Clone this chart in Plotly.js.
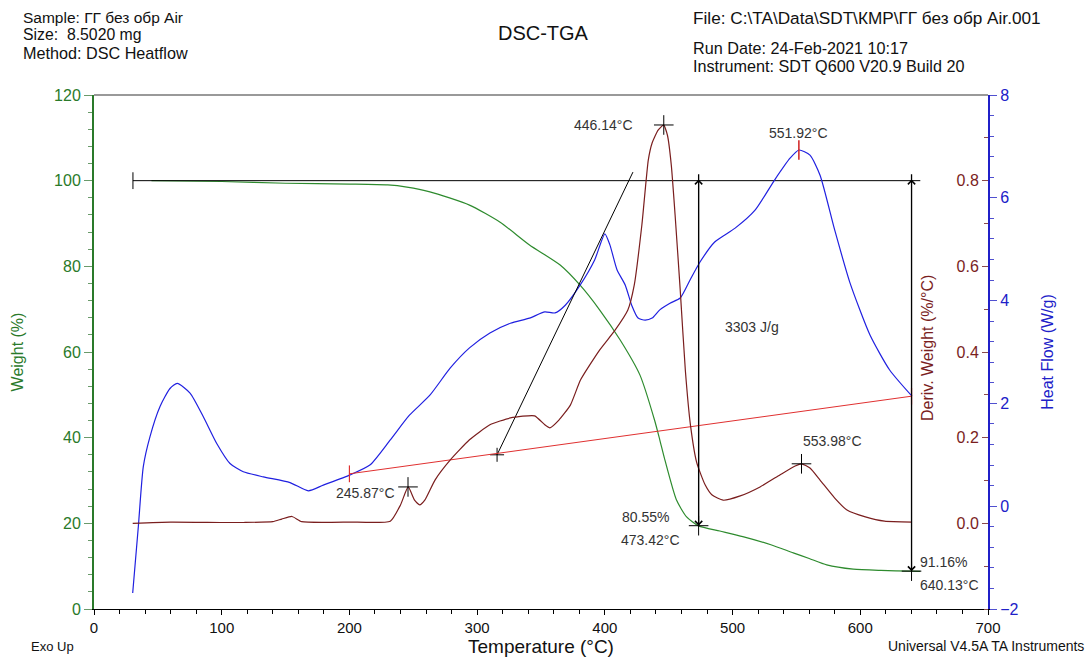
<!DOCTYPE html>
<html><head><meta charset="utf-8">
<script src="https://cdn.plot.ly/plotly-3.0.1.min.js"></script>
<style>html,body{margin:0;padding:0;background:#fff}#chart{width:1087px;height:657px}</style>
</head><body><div id="chart"></div>
<script>
// ---- Weight (%) vs temperature (°C)
const tempW = [45, 100, 150, 200, 230, 245, 263, 294, 318, 341, 365, 380.6, 396, 412, 427.5, 439, 443, 447, 456, 464, 473.4, 490, 508, 530, 547.5, 560, 573.7, 594.5, 616, 640, 647];
const weight = [100, 99.8, 99.4, 99.2, 99.0, 98.5, 97.4, 94.3, 90.3, 85.0, 80.3, 75.6, 69.8, 62.8, 54.6, 44.0, 39.5, 34.8, 25.5, 21.5, 19.4, 18.2, 16.9, 15.0, 13.1, 11.8, 10.3, 9.3, 9.0, 8.84, 8.8];

// ---- Deriv. Weight (%/°C)
const tempD = [30.3, 60, 100, 117, 140, 147, 155, 162.6, 200, 232, 240, 246, 251, 255, 259, 267, 279, 294, 310, 326, 345, 353, 357, 364, 373, 381, 396, 408, 418, 423, 429, 434, 437, 441.7, 446, 449, 452, 455, 459, 463, 467, 472, 478.5, 484, 492.6, 506, 521.5, 537, 549, 554, 560.6, 568.5, 580, 589.6, 604, 619, 640.5];
const deriv = [0.0, 0.003, 0.002, 0.002, 0.004, 0.01, 0.016, 0.004, 0.003, 0.005, 0.043, 0.085, 0.054, 0.043, 0.054, 0.101, 0.148, 0.195, 0.230, 0.246, 0.251, 0.230, 0.223, 0.241, 0.276, 0.335, 0.405, 0.451, 0.498, 0.556, 0.697, 0.848, 0.888, 0.918, 0.930, 0.906, 0.837, 0.720, 0.545, 0.358, 0.230, 0.141, 0.090, 0.066, 0.054, 0.064, 0.085, 0.113, 0.134, 0.139, 0.129, 0.101, 0.059, 0.031, 0.015, 0.005, 0.003];

// ---- Heat Flow (W/g)
const tempH = [30.3, 34.7, 38.6, 43.8, 51.7, 59.5, 65.2, 75.2, 85.6, 96.1, 106.5, 116.9, 132.6, 153.5, 167.8, 179.5, 200.5, 216, 232, 247, 263, 279, 294, 310, 326, 341, 353, 361, 369, 380.6, 392, 400, 404, 409.5, 416, 421, 426, 431.6, 437, 443, 451, 459, 466.7, 474.5, 486, 502, 517.6, 533, 545, 552, 560.6, 568.5, 580, 592, 607.6, 623, 640.5];
const heatFlow = [-1.69, -0.40, 0.77, 1.35, 1.94, 2.29, 2.39, 2.20, 1.74, 1.22, 0.83, 0.67, 0.57, 0.46, 0.30, 0.41, 0.61, 0.80, 1.29, 1.77, 2.16, 2.69, 3.08, 3.37, 3.56, 3.66, 3.78, 3.76, 3.91, 4.30, 4.79, 5.30, 5.08, 4.60, 4.30, 3.91, 3.66, 3.62, 3.66, 3.82, 3.95, 4.05, 4.40, 4.75, 5.14, 5.41, 5.76, 6.35, 6.77, 6.93, 6.83, 6.44, 5.37, 4.34, 3.33, 2.65, 2.14];

// ---- Axis ticks
const xTicks = [0, 100, 200, 300, 400, 500, 600, 700];
const derivTicks = [0, 0.2, 0.4, 0.6, 0.8];

// ---- Analysis marks
const derivPeakT = [245.87, 446.14, 553.98];
const derivPeakD = [0.085, 0.930, 0.139];
const stepT = [473.42, 640.13];
const stepW = [19.45, 8.84];
const stepLabelPct = ['80.55%', '91.16%'];
const levelT = [30.5, 647];
const levelW = [100, 100];
const tangentT = [315.6, 422];
const tangentH = [1.0, 6.5];
const baseT = [200, 640.13];
const baseH = [0.63, 2.14];
const hfPeakT = [551.92];
const hfPeakH = [6.93];
const enthalpy = '3303 J/g';

const FONT = 'Liberation Sans, Arial, sans-serif';
const GREEN = '#2a7a2a', BROWN = '#7a1e1e', BLUE = '#2020c8', TXT = '#333333';

const traces = [
  {x: tempW, y: weight, type: 'scatter', mode: 'lines', line: {color: '#2e8b2e', width: 1.2, shape: 'spline', smoothing: 0.6}, yaxis: 'y', hoverinfo: 'skip'},
  {x: tempD, y: deriv, type: 'scatter', mode: 'lines', line: {color: '#7a1e1e', width: 1.2, shape: 'spline', smoothing: 0.5}, yaxis: 'y3', hoverinfo: 'skip'},
  {x: tempH, y: heatFlow, type: 'scatter', mode: 'lines', line: {color: '#2020e0', width: 1.2, shape: 'spline', smoothing: 0.6}, yaxis: 'y2', hoverinfo: 'skip'},
  {x: levelT, y: levelW, type: 'scatter', mode: 'lines', line: {color: '#000', width: 1}, yaxis: 'y', hoverinfo: 'skip'},
  {x: [levelT[0]], y: [levelW[0]], type: 'scatter', mode: 'markers', marker: {symbol: 'line-ns', size: 12, line: {color: '#000', width: 1}}, yaxis: 'y', hoverinfo: 'skip'},
  {x: [stepT[0], stepT[0], null, stepT[1], stepT[1]], y: [101.5, stepW[0], null, 101.5, stepW[1]], type: 'scatter', mode: 'lines', line: {color: '#000', width: 1.3}, yaxis: 'y', hoverinfo: 'skip'},
  {x: stepT, y: stepW, type: 'scatter', mode: 'markers', marker: {symbol: 'cross-thin', size: 14, line: {color: '#000', width: 1}}, yaxis: 'y', hoverinfo: 'skip'},
  {x: tangentT, y: tangentH, type: 'scatter', mode: 'lines', line: {color: '#000', width: 1}, yaxis: 'y2', hoverinfo: 'skip'},
  {x: [tangentT[0]], y: [tangentH[0]], type: 'scatter', mode: 'markers', marker: {symbol: 'cross-thin', size: 10, line: {color: '#000', width: 1}}, yaxis: 'y2', hoverinfo: 'skip'},
  {x: baseT, y: baseH, type: 'scatter', mode: 'lines+markers', line: {color: '#e03030', width: 1}, marker: {symbol: 'line-ns', size: 12, color: '#e03030', line: {color: '#e03030', width: 1.2}}, yaxis: 'y2', hoverinfo: 'skip'},
  {x: hfPeakT, y: hfPeakH, type: 'scatter', mode: 'markers', marker: {symbol: 'line-ns', size: 14, line: {color: '#d02020', width: 1.5}}, yaxis: 'y2', hoverinfo: 'skip'},
  {x: derivPeakT, y: derivPeakD, type: 'scatter', mode: 'markers', marker: {symbol: 'cross-thin', size: 14, line: {color: '#000', width: 1}}, yaxis: 'y3', hoverinfo: 'skip'}
];

function lbl(x, y, text, xanchor) {
  return {x: x, y: y, xref: 'x', yref: 'y', text: text, showarrow: false, xanchor: xanchor || 'center', yanchor: 'middle', font: {family: FONT, size: 14, color: TXT}};
}
function pap(x, y, text, size, opts) {
  return Object.assign({x: x, y: y, xref: 'paper', yref: 'paper', text: text, showarrow: false, xanchor: 'left', yanchor: 'middle', align: 'left', borderpad: 0, font: {family: FONT, size: size, color: '#111'}}, opts || {});
}
// pixel -> paper helpers for page furniture
function px(p) { return (p - 94) / 894; }
function py(p) { return (609 - p) / 514; }

const annotations = [
  pap(px(22), py(17.5), 'Sample: ГГ без обр Air', 15.5),
  pap(px(22), py(35), 'Size:  8.5020 mg', 15.8),
  pap(px(22), py(52.5), 'Method: DSC Heatflow', 16.2),
  pap(px(692), py(18), 'File: C:\\TA\\Data\\SDT\\КМР\\ГГ без обр Air.001', 17.2),
  pap(px(692), py(48), 'Run Date: 24-Feb-2021 10:17', 16.2),
  pap(px(692), py(66.5), 'Instrument: SDT Q600 V20.9 Build 20', 16.2),
  pap(px(30), py(646), 'Exo Up', 13),
  pap(px(1085), py(646), 'Universal V4.5A TA Instruments', 14, {xanchor: 'right'}),
  pap(px(927), py(348), 'Deriv. Weight (%/°C)', 16, {xanchor: 'center', textangle: -90, font: {family: FONT, size: 16, color: BROWN}}),
  lbl(399.3, 113.0, derivPeakT[1].toFixed(2) + '°C'),
  lbl(552, 111.1, hfPeakT[0].toFixed(2) + '°C'),
  lbl(212.2, 27.1, derivPeakT[0].toFixed(2) + '°C'),
  lbl(578.6, 39.2, derivPeakT[2].toFixed(2) + '°C'),
  lbl(515.2, 65.8, enthalpy),
  lbl(432.2, 21.5, stepLabelPct[0]),
  lbl(435.4, 16.1, stepT[0].toFixed(2) + '°C'),
  lbl(645.2, 11.0, stepLabelPct[1], 'left'),
  lbl(645.2, 5.6, stepT[1].toFixed(2) + '°C', 'left')
];
stepT.forEach(function (t, i) {
  annotations.push({x: t, y: stepW[i], ax: t, ay: 100.6, xref: 'x', yref: 'y', axref: 'x', ayref: 'y', text: '', showarrow: true, arrowhead: 4, arrowside: 'end+start', arrowsize: 1.4, arrowwidth: 1, arrowcolor: '#000'});
});

const layout = {
  width: 1087, height: 657,
  margin: {l: 94, r: 99, t: 95, b: 48, pad: 0},
  paper_bgcolor: '#fff', plot_bgcolor: '#fff',
  showlegend: false, hovermode: false,
  font: {family: FONT, size: 15, color: '#111'},
  title: {text: 'DSC-TGA', x: 0.4995, xref: 'container', y: 0.9498, yref: 'container', xanchor: 'center', yanchor: 'middle', font: {family: FONT, size: 20, color: '#111'}},
  xaxis: {
    range: [0, 700], tickmode: 'array', tickvals: xTicks, showgrid: false, zeroline: false,
    showline: true, linecolor: '#000', linewidth: 1,
    ticks: 'outside', ticklen: 5, tickcolor: '#000',
    minor: {tickmode: 'linear', tick0: 0, dtick: 20, ticks: 'outside', ticklen: 4, tickcolor: '#000'},
    tickfont: {family: FONT, size: 15, color: '#111'},
    title: {text: 'Temperature (°C)', standoff: 8, font: {family: FONT, size: 19, color: '#111'}},
    automargin: false
  },
  yaxis: {
    range: [0, 120], dtick: 20, showgrid: false, zeroline: false,
    showline: true, linecolor: GREEN, linewidth: 2,
    ticks: 'outside', ticklen: 8, tickcolor: '#6a9a6a',
    minor: {dtick: 4, ticks: 'outside', ticklen: 4, tickcolor: '#6a9a6a'},
    tickfont: {family: FONT, size: 16, color: GREEN},
    title: {text: 'Weight (%)', standoff: 26, font: {family: FONT, size: 16, color: GREEN}},
    automargin: false
  },
  yaxis2: {
    overlaying: 'y', side: 'right', anchor: 'x',
    range: [-2, 8], dtick: 2, showgrid: false, zeroline: false,
    showline: true, linecolor: BLUE, linewidth: 2,
    ticks: 'outside', ticklen: 7, tickcolor: '#5050d0',
    minor: {dtick: 0.4, ticks: 'outside', ticklen: 4, tickcolor: '#5050d0'},
    tickfont: {family: FONT, size: 16, color: BLUE},
    title: {text: 'Heat Flow (W/g)', standoff: 24, font: {family: FONT, size: 16, color: BLUE}},
    automargin: false
  },
  yaxis3: {
    overlaying: 'y', side: 'left', anchor: 'free', position: 1,
    range: [-0.2, 1.0], tickmode: 'array', tickvals: derivTicks, tickformat: '.1f',
    showgrid: false, zeroline: false, showline: false,
    ticks: 'outside', ticklen: 6, tickcolor: '#8a4a4a',
    minor: {tickmode: 'linear', tick0: 0, dtick: 0.1, ticks: 'outside', ticklen: 4, tickcolor: '#8a4a4a'},
    tickfont: {family: FONT, size: 16, color: BROWN},
    automargin: false
  },
  shapes: [
    {type: 'line', xref: 'paper', yref: 'paper', x0: 0, x1: 1, y0: 1, y1: 1, line: {color: '#999', width: 2}}
  ],
  annotations: annotations
};

Plotly.newPlot('chart', traces, layout, {displayModeBar: false, staticPlot: true});
</script>
</body></html>
